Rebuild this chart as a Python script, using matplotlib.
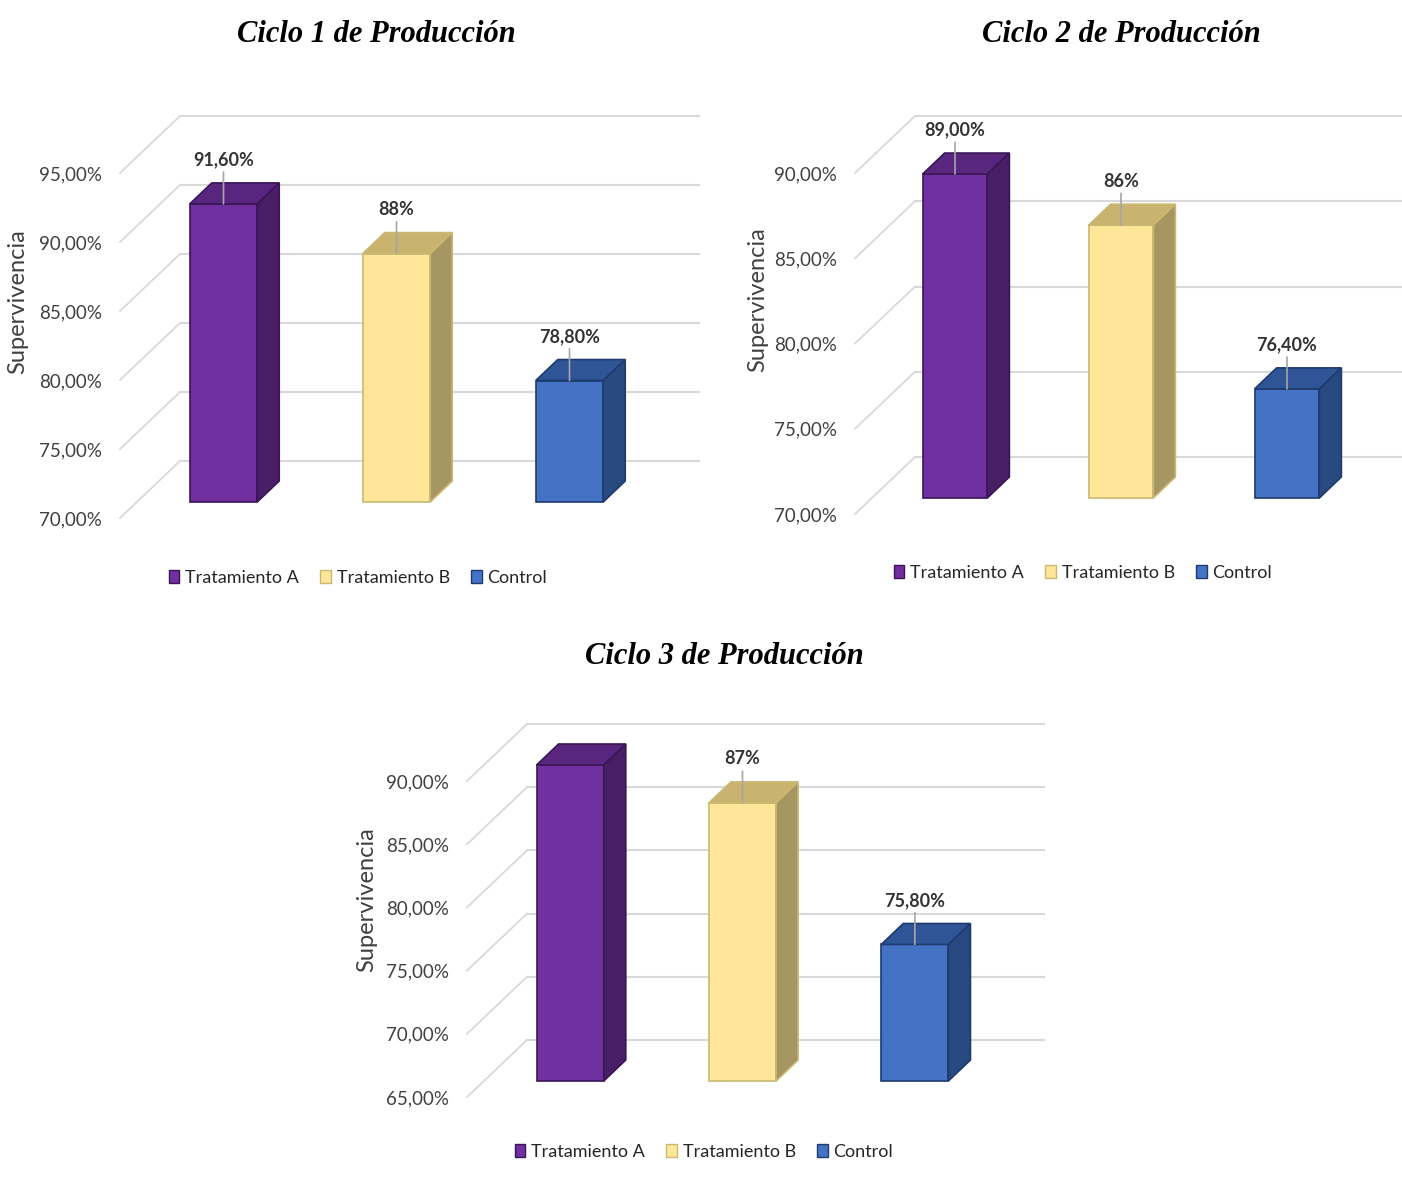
import matplotlib
matplotlib.use("Agg")
import matplotlib.pyplot as plt
from matplotlib.patches import Polygon, Patch

# survival per production cycle (percent)
groups = ["Tratamiento A", "Tratamiento B", "Control"]
cycle1 = [91.6, 88.0, 78.8]
cycle2 = [89.0, 86.0, 76.4]
cycle3 = [90.0, 87.0, 75.8]
labels1 = ["91,60%", "88%", "78,80%"]
labels2 = ["89,00%", "86%", "76,40%"]
labels3 = ["90,00%", "87%", "75,80%"]
titles = ["Ciclo 1 de Producción", "Ciclo 2 de Producción", "Ciclo 3 de Producción"]

front = ["#7030A0", "#FFE699", "#4472C4"]
top = ["#58267F", "#C9B36F", "#2F5597"]
side = ["#481F66", "#A69662", "#294A80"]
edge = ["#3A1656", "#C9B872", "#1F3A6E"]

W, H = 1402, 1186
fig = plt.figure(figsize=(W / 100, H / 100), dpi=100)
plt.rcParams["font.family"] = ["Lato", "DejaVu Sans"]

WALL = (60, 57)     # px offset of back wall
BAR0 = (17, 16)     # px offset of bar front face
BARD = (22, 21)     # px depth of each bar
BAR_W = 0.39


def shift(ax, px, py):
    # convert a pixel offset into a data offset for this axes
    x0, y0 = ax.transData.transform((0, 0))
    x1, y1 = ax.transData.inverted().transform((x0 + px, y0 + py))
    return x1, y1


def panel(box, ylo, yhi, values, vlabels, title, title_xy, ylab_xy, leg_xy):
    x0, x1, ylo_px, yhi_px = box
    ax = fig.add_axes([x0 / W, 1 - ylo_px / H, (x1 - x0) / W, (ylo_px - yhi_px) / H])
    ax.set_xlim(-0.5, 2.5)
    ax.set_ylim(ylo, yhi)
    ticks = list(range(ylo, yhi + 1, 5))
    ax.set_yticks(ticks)
    ax.set_yticklabels([f"{t:.2f}".replace(".", ",") + "%" for t in ticks],
                       fontsize=13.5, color="#404040")
    ax.tick_params(axis="y", length=0, pad=13)
    ax.set_xticks([])
    for s in ax.spines.values():
        s.set_visible(False)
    ax.patch.set_visible(False)

    wx, wy = shift(ax, *WALL)
    bx, by = shift(ax, *BAR0)
    dx, dy = shift(ax, *BARD)

    # back wall gridlines and the floor diagonals
    for t in ticks:
        ax.plot([-0.5 + wx, 2.5 + wx], [t + wy, t + wy], color="#D9D9D9",
                lw=1.5, clip_on=False, zorder=1)
        ax.plot([-0.5, -0.5 + wx], [t, t + wy], color="#D9D9D9",
                lw=1.3, clip_on=False, zorder=1)

    # 3D-looking columns
    bars = ax.bar([i + bx for i in range(3)], [v - ylo for v in values],
                  bottom=ylo + by, width=BAR_W, color=front, edgecolor=edge,
                  linewidth=1.2, zorder=3, clip_on=False)
    for i, (v, r) in enumerate(zip(values, bars)):
        xl, xr = r.get_x(), r.get_x() + r.get_width()
        yb, yt = r.get_y(), r.get_y() + r.get_height()
        ax.add_patch(Polygon([(xl, yt), (xr, yt), (xr + dx, yt + dy), (xl + dx, yt + dy)],
                             closed=True, facecolor=top[i], edgecolor=edge[i],
                             lw=1.2, zorder=3, clip_on=False))
        ax.add_patch(Polygon([(xr, yb), (xr + dx, yb + dy), (xr + dx, yt + dy), (xr, yt)],
                             closed=True, facecolor=side[i], edgecolor=edge[i],
                             lw=1.2, zorder=3, clip_on=False))
        ax.annotate(vlabels[i], xy=((xl + xr) / 2, yt), xytext=(0, 44),
                    textcoords="offset pixels", ha="center", va="center",
                    fontsize=13, fontweight="bold", color="#333333", zorder=5,
                    bbox=dict(boxstyle="square,pad=0.05", fc="white", ec="none"),
                    arrowprops=dict(arrowstyle="-", color="#A6A6A6", lw=1.2,
                                    shrinkA=2, shrinkB=0))

    fig.text(title_xy[0] / W, 1 - title_xy[1] / H, title, ha="center", va="center",
             fontsize=22, fontweight="bold", style="italic",
             family="Liberation Serif", color="black")
    fig.text(ylab_xy[0] / W, 1 - ylab_xy[1] / H, "Supervivencia", rotation=90,
             ha="center", va="center", fontsize=17, color="#404040")
    handles = [Patch(facecolor=front[i], edgecolor=edge[i], label=groups[i]) for i in range(3)]
    fig.legend(handles=handles, loc="center", ncol=3, frameon=False,
               bbox_to_anchor=(leg_xy[0] / W, 1 - leg_xy[1] / H),
               fontsize=13, handlelength=0.6, handleheight=0.75,
               handletextpad=0.3, columnspacing=1.2, labelcolor="#262626")


panel((120, 639, 518, 173), 70, 95, cycle1, labels1, titles[0], (376, 34), (18, 302), (358, 578))
panel((855, 1353, 514, 173), 70, 90, cycle2, labels2, titles[1], (1121, 34), (758, 300), (1083, 573))
panel((467, 984, 1097, 781), 65, 90, cycle3, labels3, titles[2], (724, 656), (367, 900), (704, 1152))

fig.savefig("out.png", dpi=100, facecolor="white")
